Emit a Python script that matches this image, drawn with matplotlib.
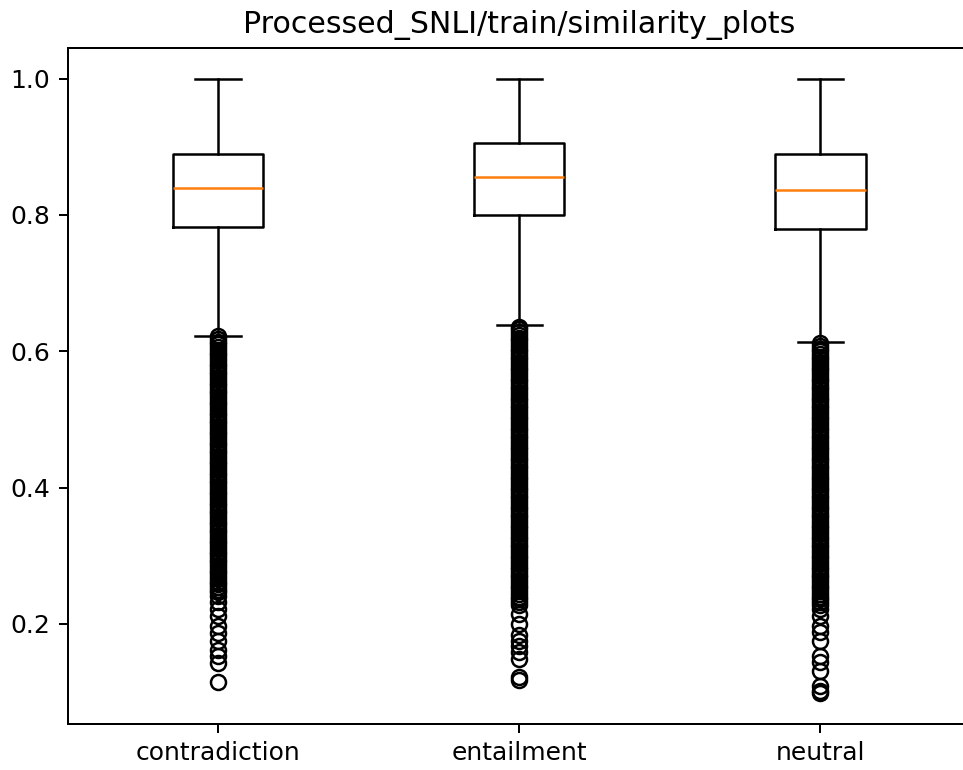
import matplotlib
matplotlib.use("Agg")
import matplotlib.pyplot as plt

categories = ["contradiction", "entailment", "neutral"]

# box statistics
medians = [0.840, 0.856, 0.836]
q1s = [0.783, 0.7995, 0.780]
q3s = [0.890, 0.906, 0.890]
whis_lo = [0.623, 0.638, 0.614]
whis_hi = [1.0, 1.0, 1.0]

# outliers (in thousandths), read from the dense and sparse circle columns
fliers_contradiction = [
    622, 618, 614, 610, 606, 602, 598, 594, 590, 586, 582, 578, 574, 570, 566, 562,
    558, 554, 550, 546, 542, 538, 534, 530, 526, 522, 518, 514, 510, 506, 502, 498,
    494, 490, 486, 482, 478, 474, 470, 466, 462, 458, 454, 450, 446, 442, 438, 434,
    430, 426, 422, 418, 414, 410, 406, 402, 398, 394, 390, 386, 382, 378, 374, 370,
    366, 362, 358, 354, 350, 346, 342, 338, 334, 330, 326, 322, 318, 314, 310, 306,
    302, 298, 294, 290, 286, 282, 278, 274, 270, 266, 262, 258, 254, 250, 246,
    241, 232, 222, 211, 197, 186, 174, 161, 153, 142, 115,
]
fliers_entailment = [
    636, 632, 628, 624, 620, 616, 612, 608, 604, 600, 596, 592, 588, 584, 580, 576,
    572, 568, 564, 560, 556, 552, 548, 544, 540, 536, 532, 528, 524, 520, 516, 512,
    508, 504, 500, 496, 492, 488, 484, 480, 476, 472, 468, 464, 460, 456, 452, 448,
    444, 440, 436, 432, 428, 424, 420, 416, 412, 408, 404, 400, 396, 392, 388, 384,
    380, 376, 372, 368, 364, 360, 356, 352, 348, 344, 340, 336, 332, 328, 324, 320,
    316, 312, 308, 304, 300, 296, 292, 288, 284, 280, 276, 272, 268, 264, 260, 256,
    252, 248, 244, 240, 236, 232,
    227, 215, 200, 183, 174, 167, 159, 149, 122, 117,
]
fliers_neutral = [
    612, 608, 604, 600, 596, 592, 588, 584, 580, 576, 572, 568, 564, 560, 556, 552,
    548, 544, 540, 536, 532, 528, 524, 520, 516, 512, 508, 504, 500, 496, 492, 488,
    484, 480, 476, 472, 468, 464, 460, 456, 452, 448, 444, 440, 436, 432, 428, 424,
    420, 416, 412, 408, 404, 400, 396, 392, 388, 384, 380, 376, 372, 368, 364, 360,
    356, 352, 348, 344, 340, 336, 332, 328, 324, 320, 316, 312, 308, 304, 300, 296,
    292, 288, 284, 280, 276, 272, 268, 264, 260, 256, 252, 248, 244, 240, 236, 232,
    228, 222,
    212, 197, 188, 174, 153, 144, 131, 109, 102, 98,
]
fliers_all = [fliers_contradiction, fliers_entailment, fliers_neutral]

title = "Processed_SNLI/train/similarity_plots"

stats = []
for i, cat in enumerate(categories):
    stats.append({
        "label": cat,
        "med": medians[i],
        "q1": q1s[i],
        "q3": q3s[i],
        "whislo": whis_lo[i],
        "whishi": whis_hi[i],
        "fliers": [v / 1000.0 for v in fliers_all[i]],
    })

W, H, DPI = 964, 770, 180
fig = plt.figure(figsize=(W / DPI, H / DPI), dpi=DPI)
left, right, top, bottom = 67.5, 971, 48, 724
ax = fig.add_axes([left / W, (H - bottom) / H, (right - left) / W, (bottom - top) / H])
ax.bxp(stats)
ax.set_title(title)
fig.savefig("out.png", dpi=DPI)
